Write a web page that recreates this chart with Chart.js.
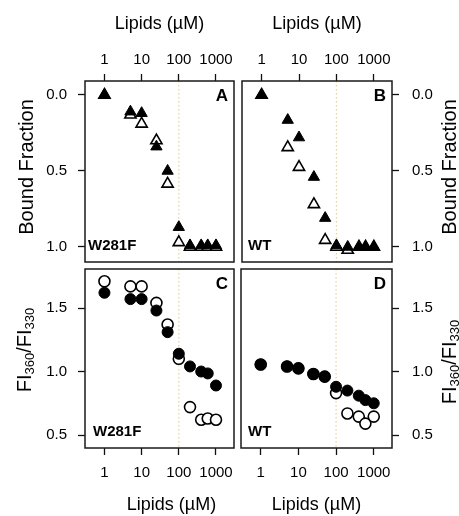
<!DOCTYPE html>
<html>
<head>
<meta charset="utf-8">
<script src="https://cdn.jsdelivr.net/npm/chart.js@4.4.0/dist/chart.umd.min.js"></script>
<style>
  html, body { margin: 0; padding: 0; background: #fff; }
  #wrap { position: relative; width: 459px; height: 516px; }
  #wrap canvas { position: absolute; left: 0; top: 0; }
</style>
</head>
<body>
<div id="wrap">
  <canvas id="panelA" width="459" height="516"></canvas>
  <canvas id="panelB" width="459" height="516"></canvas>
  <canvas id="panelC" width="459" height="516"></canvas>
  <canvas id="panelD" width="459" height="516"></canvas>
</div>
<script>
// lipid concentrations (uM)
const lipids = [1, 5, 10, 25, 50, 100, 200, 400, 600, 1000];
const xTickValues = [1, 10, 100, 1000];
const boundTicks = [0, 0.5, 1];
const ratioTicks = [0.5, 1, 1.5];
const refLine = 100;

// bound fraction (top row)
const boundW281F_filled = [0, 0.11, 0.12, 0.34, 0.50, 0.87, 0.99, 0.99, 0.99, 0.99];
const boundW281F_open   = [0, 0.13, 0.19, 0.30, 0.585, 0.97, 1.0, 1.0, 1.0, 1.0];
const boundWT_filled    = [0, 0.165, 0.28, 0.54, 0.81, 0.99, 1.0, 1.0, 1.0, 1.0];
const boundWT_open      = [0, 0.345, 0.475, 0.72, 0.955, 1.0, 1.02, 1.0, 1.0, 1.0];

// FI360/FI330 (bottom row)
const ratioW281F_filled = [1.62, 1.57, 1.57, 1.48, 1.31, 1.14, 1.04, 1.0, 0.985, 0.89];
const ratioW281F_open   = [1.71, 1.67, 1.67, 1.54, 1.37, 1.10, 0.72, 0.62, 0.63, 0.62];
const ratioWT_filled    = [1.055, 1.04, 1.025, 0.98, 0.96, 0.88, 0.85, 0.81, 0.775, 0.75];
const ratioWT_open      = [1.055, 1.04, 1.025, 0.98, 0.96, 0.83, 0.67, 0.645, 0.59, 0.645];

const FONT = '"Liberation Sans", Arial, Helvetica, sans-serif';

function pts(arr) {
  return lipids.map((x, i) => ({ x: x, y: arr[i] }));
}

// draws the dotted line at 100 uM, box, panel letters and axis titles
const decor = {
  id: 'decor',
  beforeDatasetsDraw(chart, args, opts) {
    const ctx = chart.ctx, a = chart.chartArea;
    const px = chart.scales.x.getPixelForValue(refLine);
    ctx.save();
    ctx.strokeStyle = '#ecd08e';
    ctx.lineWidth = 1.2;
    ctx.setLineDash([1.5, 2.5]);
    ctx.beginPath();
    ctx.moveTo(px, a.top);
    ctx.lineTo(px, a.bottom);
    ctx.stroke();
    ctx.restore();
  },
  afterDraw(chart, args, opts) {
    const ctx = chart.ctx, a = chart.chartArea;
    ctx.save();
    ctx.strokeStyle = '#1a1a1a';
    ctx.lineWidth = 1.5;
    ctx.strokeRect(a.left, a.top, a.right - a.left, a.bottom - a.top);

    ctx.fillStyle = '#000';
    ctx.textBaseline = 'middle';
    ctx.font = 'bold 17px ' + FONT;
    ctx.textAlign = 'center';
    ctx.fillText(opts.letter, a.right - 12, a.top + 15);
    ctx.font = 'bold 15px ' + FONT;
    ctx.textAlign = 'left';
    ctx.fillText(opts.sample, a.left + opts.sampleDx, a.bottom - 16);

    // x title
    ctx.font = '18px ' + FONT;
    ctx.textAlign = 'center';
    ctx.fillText('Lipids (µM)', (a.left + a.right) / 2 + opts.xTitleDx, opts.xTitleY);

    // y title (rotated, reading bottom to top)
    ctx.translate(opts.yTitleX, opts.yTitleY);
    ctx.rotate(-Math.PI / 2);
    if (opts.ratio) {
      const big = '20px ' + FONT, small = '13px ' + FONT;
      const parts = [['FI', big, 0], ['360', small, 5], ['/FI', big, 0], ['330', small, 5]];
      let w = 0;
      parts.forEach(p => { ctx.font = p[1]; w += ctx.measureText(p[0]).width; });
      let x = -w / 2;
      ctx.textAlign = 'left';
      parts.forEach(p => {
        ctx.font = p[1];
        ctx.fillText(p[0], x, p[2]);
        x += ctx.measureText(p[0]).width;
      });
    } else {
      ctx.font = '20px ' + FONT;
      ctx.textAlign = 'center';
      ctx.fillText('Bound Fraction', 0, 0);
    }
    ctx.restore();
  }
};

function makePanel(id, p) {
  const ctx = document.getElementById(id).getContext('2d');
  const grid = {
    drawOnChartArea: false, drawTicks: true, tickLength: 7,
    tickColor: '#111', tickWidth: 1.3, color: '#111'
  };
  return new Chart(ctx, {
    type: 'scatter',
    data: {
      datasets: [
        { data: pts(p.filled), pointStyle: p.marker, pointRadius: p.radius,
          backgroundColor: '#000', borderColor: '#000', borderWidth: 1 },
        { data: pts(p.open), pointStyle: p.marker, pointRadius: p.radius,
          backgroundColor: '#fff', borderColor: '#000', borderWidth: 1.6 }
      ]
    },
    options: {
      responsive: false,
      animation: false,
      events: [],
      layout: { padding: p.padding },
      plugins: {
        legend: { display: false },
        tooltip: { enabled: false },
        decor: p.decor
      },
      scales: {
        x: {
          type: 'logarithmic', position: p.xPos, min: 0.31, max: 3050,
          afterBuildTicks: s => { s.ticks = xTickValues.map(v => ({ value: v })); },
          afterFit: s => { s.height = p.xHeight; },
          ticks: { autoSkip: false, maxRotation: 0, padding: p.xPad, color: '#000',
                   font: { family: FONT, size: 15 }, callback: v => String(v) },
          grid: grid,
          border: { display: false }
        },
        y: {
          type: 'linear', position: p.yPos, reverse: p.reverse, min: p.yMin, max: p.yMax,
          afterBuildTicks: s => { s.ticks = p.yTicks.map(v => ({ value: v })); },
          afterFit: s => { s.width = p.yWidth; },
          ticks: { padding: p.yPad, color: '#000', font: { family: FONT, size: 15 },
                   callback: v => Number(v).toFixed(1) },
          grid: grid,
          border: { display: false }
        }
      }
    },
    plugins: [decor]
  });
}

makePanel('panelA', {
  filled: boundW281F_filled, open: boundW281F_open, marker: 'triangle', radius: 6.5,
  padding: { left: 0, top: 0, right: 225, bottom: 254 },
  xPos: 'top', xHeight: 81, xPad: 5,
  yPos: 'left', yWidth: 85, yPad: 11, reverse: true, yMin: -0.092, yMax: 1.099, yTicks: boundTicks,
  decor: { letter: 'A', sample: 'W281F', sampleDx: 3, xTitleDx: 0, xTitleY: 24,
           yTitleX: 27, yTitleY: 167, ratio: false }
});

makePanel('panelB', {
  filled: boundWT_filled, open: boundWT_open, marker: 'triangle', radius: 6.5,
  padding: { left: 242, top: 0, right: 0, bottom: 254 },
  xPos: 'top', xHeight: 81, xPad: 5,
  yPos: 'right', yWidth: 67, yPad: 13, reverse: true, yMin: -0.092, yMax: 1.099, yTicks: boundTicks,
  decor: { letter: 'B', sample: 'WT', sampleDx: 6, xTitleDx: 0, xTitleY: 24,
           yTitleX: 450, yTitleY: 167, ratio: false }
});

makePanel('panelC', {
  filled: ratioW281F_filled, open: ratioW281F_open, marker: 'circle', radius: 5.5,
  padding: { left: 0, top: 269, right: 225, bottom: 0 },
  xPos: 'bottom', xHeight: 68, xPad: 9,
  yPos: 'left', yWidth: 85, yPad: 11, reverse: false, yMin: 0.398, yMax: 1.807, yTicks: ratioTicks,
  decor: { letter: 'C', sample: 'W281F', sampleDx: 8, xTitleDx: 12, xTitleY: 505,
           yTitleX: 25, yTitleY: 350, ratio: true }
});

makePanel('panelD', {
  filled: ratioWT_filled, open: ratioWT_open, marker: 'circle', radius: 5.5,
  padding: { left: 241, top: 269, right: 0, bottom: 0 },
  xPos: 'bottom', xHeight: 68, xPad: 9,
  yPos: 'right', yWidth: 67, yPad: 13, reverse: false, yMin: 0.398, yMax: 1.807, yTicks: ratioTicks,
  decor: { letter: 'D', sample: 'WT', sampleDx: 7, xTitleDx: 0, xTitleY: 505,
           yTitleX: 450, yTitleY: 362, ratio: true }
});
</script>
</body>
</html>
